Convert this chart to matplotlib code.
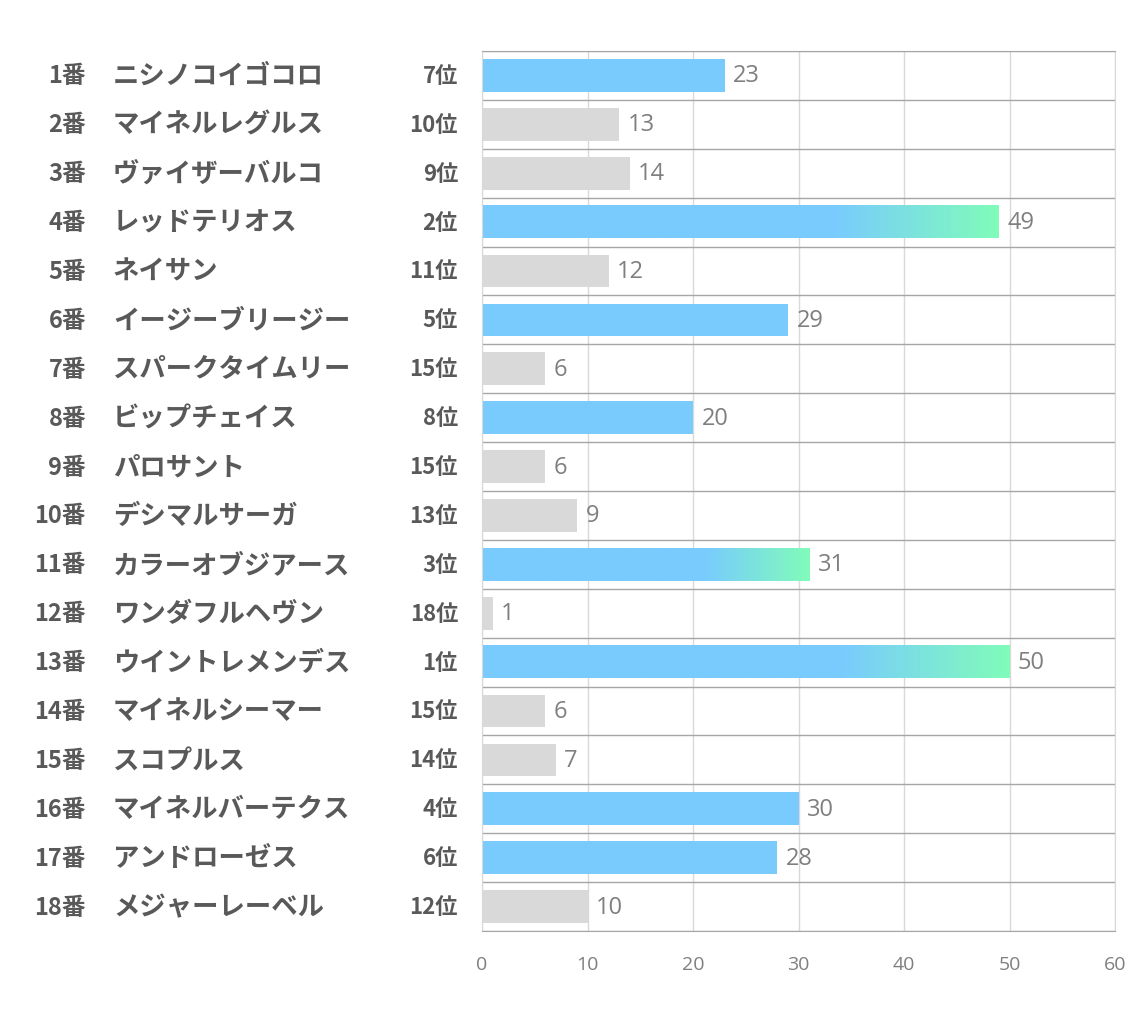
import matplotlib
matplotlib.use("Agg")
import matplotlib.pyplot as plt
import numpy as np
from matplotlib.colors import LinearSegmentedColormap

plt.rcParams["font.family"] = ["Noto Sans CJK JP", "DejaVu Sans"]

# data
gate_nums = [f"{i}番" for i in range(1, 19)]
horse_names = ["ニシノコイゴコロ", "マイネルレグルス", "ヴァイザーバルコ", "レッドテリオス",
               "ネイサン", "イージーブリージー", "スパークタイムリー", "ビップチェイス",
               "パロサント", "デシマルサーガ", "カラーオブジアース", "ワンダフルヘヴン",
               "ウイントレメンデス", "マイネルシーマー", "スコプルス", "マイネルバーテクス",
               "アンドローゼス", "メジャーレーベル"]
scores = [23, 13, 14, 49, 12, 29, 6, 20, 6, 9, 31, 1, 50, 6, 7, 30, 28, 10]
ranks = [7, 10, 9, 2, 11, 5, 15, 8, 15, 13, 3, 18, 1, 15, 14, 4, 6, 12]

BLUE = "#79CBFE"
GREEN = "#80FCBA"
GRAY = "#D9D9D9"
TEXT = "#595959"
VAL = "#7F7F7F"

grad = LinearSegmentedColormap.from_list(
    "bg", [(0, BLUE), (0.68, BLUE), (1.0, GREEN)])

fig = plt.figure(figsize=(11.34, 10.2), dpi=100)
ax = fig.add_axes([482 / 1134, 1 - 932 / 1020, (1115 - 482) / 1134, (932 - 52) / 1020])

n = len(scores)
y = np.arange(n)
bar_h = 0.67

for yi, v, r in zip(y, scores, ranks):
    if r <= 3:
        # top three get the blue->green fade
        ax.imshow(np.linspace(0, 1, 256).reshape(1, -1), cmap=grad, aspect="auto",
                  extent=(0, v, yi + bar_h / 2, yi - bar_h / 2), zorder=2,
                  interpolation="bilinear")
    else:
        color = BLUE if r <= 8 else GRAY
        ax.barh(yi, v, height=bar_h, color=color, zorder=2)
    ax.text(v + 0.8, yi, str(v), va="center", ha="left", fontsize=17,
            color=VAL, family=["Open Sans", "DejaVu Sans"], zorder=3)

ax.set_xlim(0, 60)
ax.set_ylim(n - 0.5, -0.5)
ax.set_xticks(range(0, 61, 10))
ax.set_yticks([])
ax.set_yticks(np.arange(-0.5, n, 1), minor=True)
ax.tick_params(axis="y", which="both", length=0)
ax.tick_params(axis="x", length=0, pad=17, labelsize=14, labelcolor=VAL)
for lbl in ax.get_xticklabels():
    lbl.set_family(["Open Sans", "DejaVu Sans"])
ax.grid(axis="x", color="#D9D9D9", linewidth=1, zorder=0)
ax.grid(axis="y", which="minor", color="#A6A6A6", linewidth=1, zorder=0)
ax.set_axisbelow(True)
for s in ["top", "bottom"]:
    ax.spines[s].set_color("#A6A6A6")
for s in ["left", "right"]:
    ax.spines[s].set_color("#D9D9D9")

# left-side labels: x in axes fraction, y in data
trans = ax.get_yaxis_transform()
x_num = (86 - 482) / (1115 - 482)
x_name = (113 - 482) / (1115 - 482)
x_rank = (458 - 482) / (1115 - 482)
for yi, g, name, r in zip(y, gate_nums, horse_names, ranks):
    ax.text(x_num, yi, g, transform=trans, ha="right", va="center",
            fontsize=17, fontweight="bold", color=TEXT)
    ax.text(x_name, yi, name, transform=trans, ha="left", va="center",
            fontsize=19, fontweight="bold", color=TEXT)
    ax.text(x_rank, yi, f"{r}位", transform=trans, ha="right", va="center",
            fontsize=16, fontweight="bold", color=TEXT)

fig.savefig("out.png", dpi=100)
